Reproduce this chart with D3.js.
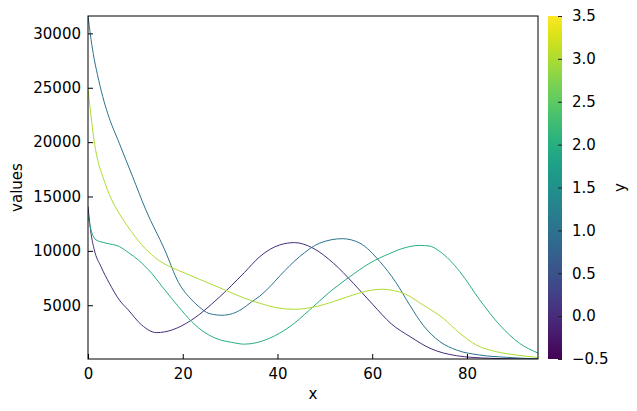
<!DOCTYPE html>
<html>
<head>
<meta charset="utf-8">
<script src="https://cdn.jsdelivr.net/npm/d3@7"></script>
<style>
  html, body { margin: 0; padding: 0; background: #fff; }
  text { font-family: "DejaVu Sans", sans-serif; }
</style>
</head>
<body>
<svg id="chart" width="637" height="411"></svg>
<script>
// ---- data ----
const seriesY = [0, 1, 2, 3];

const x0 = [0, 0.63, 1.33, 2.74, 4.5, 6.6, 8.5, 11.3, 14.5, 17.7, 21.9, 27.5, 33, 36.3, 40.5, 43.6, 47.5, 51.8, 56, 60.2, 64, 68, 72.2, 77.8, 84.8, 90, 95];
const v0 = [14080, 11630, 10090, 8550, 7030, 5490, 4570, 3190, 2480, 2720, 3650, 5650, 8000, 9480, 10550, 10760, 10250, 8870, 7030, 5030, 3300, 2110, 1040, 360, 120, 70, 55];

const x1 = [0, 0.5, 1.1, 2, 3.1, 4.15, 6.6, 9.4, 12.2, 16.2, 19.1, 21.9, 23.6, 25, 26.5, 28.2, 30.5, 32.5, 34.5, 36.3, 38.4, 40.5, 44.7, 48.9, 53.7, 57.4, 61.6, 65, 67.9, 70.7, 74.3, 77.8, 82.7, 88.3, 95];
const v1 = [31600, 29900, 28150, 26200, 24200, 22650, 19900, 16850, 13780, 10090, 7100, 5490, 4800, 4350, 4150, 4080, 4230, 4650, 5300, 5850, 6700, 7700, 9480, 10710, 11120, 10710, 9020, 7100, 5030, 3190, 1650, 880, 420, 210, 60];

const x2 = [0, 0.84, 1.69, 3.8, 6.6, 8.7, 10.6, 13.4, 16.2, 19.1, 21.9, 24.7, 27.5, 30.3, 33, 35.5, 38.3, 42.6, 46.8, 51.1, 55.3, 59.5, 63.7, 67, 70, 72, 74.3, 78.5, 82.7, 86.9, 91.1, 95];
const v2 = [13160, 11630, 11010, 10710, 10400, 9790, 9170, 7950, 6410, 4870, 3490, 2480, 1870, 1590, 1420, 1550, 1960, 3030, 4570, 6250, 7630, 8870, 9760, 10300, 10500, 10450, 9940, 8090, 5490, 3190, 1500, 600];

const x3 = [0, 0.4, 0.8, 1.3, 2.2, 3.1, 5, 6.3, 7.3, 9.2, 12, 14.8, 17.7, 20.5, 24.7, 28.9, 33, 36.3, 40.5, 43.6, 47.5, 51.8, 56, 60.2, 62.3, 64.5, 66.9, 70.7, 75, 78.5, 82, 86.2, 90.4, 95];
const v3 = [24800, 23300, 21800, 20100, 18100, 16850, 14700, 13650, 12950, 11750, 10250, 9170, 8460, 7950, 7170, 6410, 5650, 5180, 4720, 4630, 4820, 5330, 5950, 6410, 6470, 6350, 6040, 5030, 3800, 2420, 1340, 730, 420, 200];

const xTicks = [0, 20, 40, 60, 80];
const yTicks = [5000, 10000, 15000, 20000, 25000, 30000];
const cbTicks = [-0.5, 0, 0.5, 1, 1.5, 2, 2.5, 3, 3.5];
const cbDomain = [-0.5, 3.5];

const xsAll = [x0, x1, x2, x3];
const vsAll = [v0, v1, v2, v3];

// ---- layout ----
const svg = d3.select("#chart");
const L = 88, R = 538, T = 16, B = 359;
const fontSize = 15;

const x = d3.scaleLinear().domain([0, 95]).range([L, R]);
const allV = vsAll.flat();
const y = d3.scaleLinear().domain(d3.extent(allV)).range([B, T]);
const color = d3.scaleSequential(d3.interpolateViridis).domain(cbDomain);

// lines
const line = d3.line().x(d => x(d[0])).y(d => y(d[1])).curve(d3.curveMonotoneX);
const defs = svg.append("defs");
defs.append("clipPath").attr("id", "clip")
  .append("rect").attr("x", L).attr("y", T).attr("width", R - L).attr("height", B - T);
const g = svg.append("g").attr("clip-path", "url(#clip)");
seriesY.forEach((s, i) => {
  const pts = xsAll[i].map((xv, j) => [xv, vsAll[i][j]]);
  g.append("path").attr("d", line(pts)).attr("fill", "none")
    .attr("stroke", color(s)).attr("stroke-width", 1);
});

// axes
const xAxis = d3.axisBottom(x).tickValues(xTicks).tickSizeInner(-5).tickSizeOuter(0).tickPadding(9).tickFormat(d3.format("d"));
const gx = svg.append("g").attr("transform", `translate(0,${B})`).call(xAxis);
gx.select(".domain").remove();
gx.selectAll("text").attr("font-size", fontSize).attr("font-family", "DejaVu Sans").attr("fill", "#000");
gx.selectAll("line").attr("stroke", "#000");

const yAxis = d3.axisLeft(y).tickValues(yTicks).tickSizeInner(-5).tickSizeOuter(0).tickPadding(7).tickFormat(d3.format("d"));
const gy = svg.append("g").attr("transform", `translate(${L},0)`).call(yAxis);
gy.select(".domain").remove();
gy.selectAll("text").attr("font-size", fontSize).attr("font-family", "DejaVu Sans").attr("fill", "#000");
gy.selectAll("line").attr("stroke", "#000");

// frame
svg.append("rect").attr("x", L).attr("y", T).attr("width", R - L).attr("height", B - T)
  .attr("fill", "none").attr("stroke", "#000").attr("stroke-width", 1);

// axis labels
svg.append("text").attr("x", (L + R) / 2).attr("y", 399).attr("text-anchor", "middle")
  .attr("font-size", fontSize).text("x");
svg.append("text").attr("transform", `translate(22,${(T + B) / 2}) rotate(-90)`)
  .attr("text-anchor", "middle").attr("font-size", fontSize).text("values");

// colorbar
const cbL = 548, cbR = 562;
const cy = d3.scaleLinear().domain(cbDomain).range([B, T]);
const grad = defs.append("linearGradient").attr("id", "cbgrad")
  .attr("x1", 0).attr("y1", 1).attr("x2", 0).attr("y2", 0);
d3.range(0, 1.0001, 0.05).forEach(t => {
  grad.append("stop").attr("offset", t).attr("stop-color", d3.interpolateViridis(t));
});
svg.append("rect").attr("x", cbL).attr("y", T).attr("width", cbR - cbL).attr("height", B - T)
  .attr("fill", "url(#cbgrad)");
const cbAxis = d3.axisRight(cy).tickValues(cbTicks).tickSizeInner(-4).tickSizeOuter(0).tickPadding(10).tickFormat(d3.format(".1f"));
const gc = svg.append("g").attr("transform", `translate(${cbR},0)`).call(cbAxis);
gc.select(".domain").remove();
gc.selectAll("text").attr("font-size", fontSize).attr("font-family", "DejaVu Sans").attr("fill", "#000");
gc.selectAll("line").attr("stroke", "#222");
svg.append("text").attr("transform", `translate(625,${(T + B) / 2}) rotate(-90)`)
  .attr("text-anchor", "middle").attr("font-size", fontSize).text("y");
</script>
</body>
</html>
